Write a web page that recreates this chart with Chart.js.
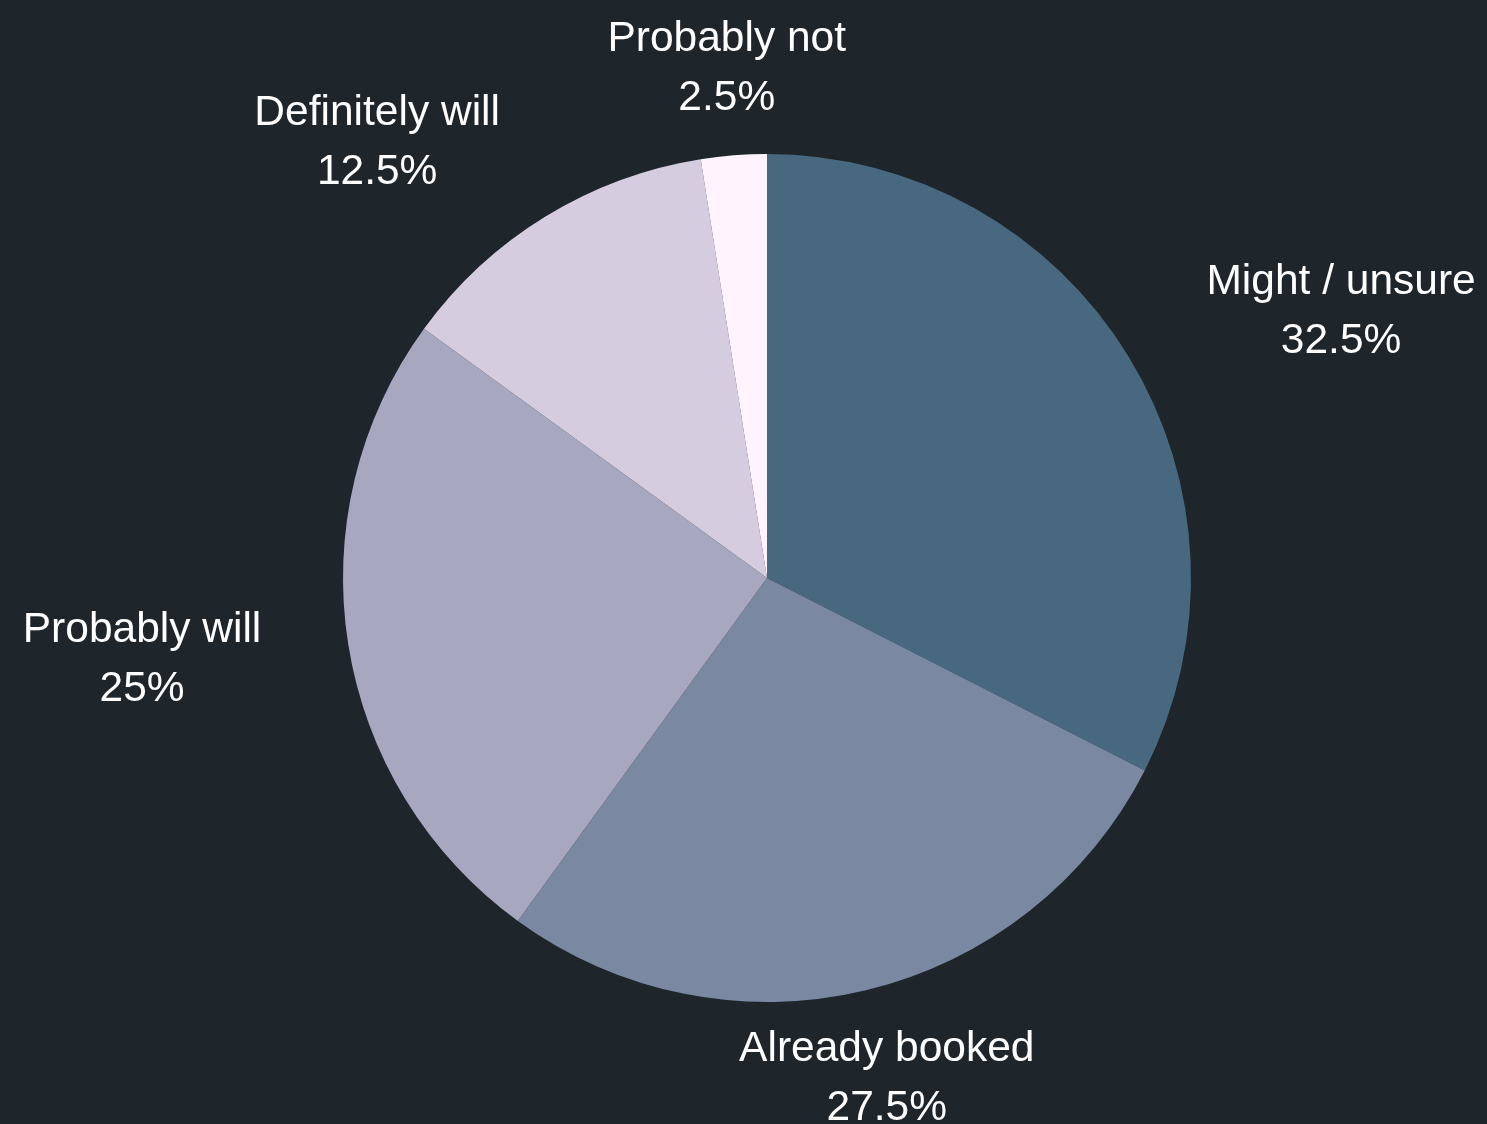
<!DOCTYPE html>
<html>
<head>
<meta charset="utf-8">
<script src="https://cdn.jsdelivr.net/npm/chart.js@4/dist/chart.umd.min.js"></script>
<style>
  html, body { margin: 0; padding: 0; background: #1e252b; }
  #wrap { width: 1487px; height: 1124px; position: relative; }
</style>
</head>
<body>
<div id="wrap"><canvas id="c"></canvas></div>
<script>
const categories = ["Might / unsure", "Already booked", "Probably will", "Definitely will", "Probably not"];
const values = [32.5, 27.5, 25, 12.5, 2.5];
const colors = ["#48687f", "#7a88a1", "#a7a7bf", "#d5cddf", "#fff3fd"];

const labelPlugin = {
  id: 'outerLabels',
  afterDatasetsDraw(chart) {
    const ctx = chart.ctx;
    const meta = chart.getDatasetMeta(0);
    const fontSize = 42.5;
    const lineGap = 59;
    ctx.save();
    ctx.font = fontSize + 'px "Liberation Sans", Arial, sans-serif';
    ctx.fillStyle = '#ffffff';
    ctx.textBaseline = 'middle';
    ctx.textAlign = 'center';
    meta.data.forEach((arc, i) => {
      const p = arc.getProps(['x', 'y', 'startAngle', 'endAngle', 'outerRadius'], true);
      const mid = (p.startAngle + p.endAngle) / 2;
      const vx = Math.cos(mid), vy = Math.sin(mid);
      const R = p.outerRadius + 89;
      const px = p.x + vx * R, py = p.y + vy * R + 2;
      const lines = [categories[i], values[i] + '%'];
      const w = Math.max(...lines.map(l => ctx.measureText(l).width));
      let cx = px;
      if (vx > 0.4) cx = px + w / 2 + 2;
      else if (vx < -0.4) cx = px - w / 2 + 1;
      ctx.fillText(lines[0], cx, py - lineGap / 2);
      ctx.fillText(lines[1], cx, py + lineGap / 2);
    });
    ctx.restore();
  }
};

new Chart(document.getElementById('c'), {
  type: 'pie',
  data: {
    labels: categories,
    datasets: [{
      data: values,
      backgroundColor: colors,
      borderWidth: 0
    }]
  },
  options: {
    responsive: true,
    maintainAspectRatio: false,
    animation: false,
    layout: { padding: { left: 343, right: 296, top: 154, bottom: 122 } },
    plugins: {
      legend: { display: false },
      tooltip: { enabled: false },
      title: { display: false }
    }
  },
  plugins: [labelPlugin]
});
</script>
</body>
</html>
